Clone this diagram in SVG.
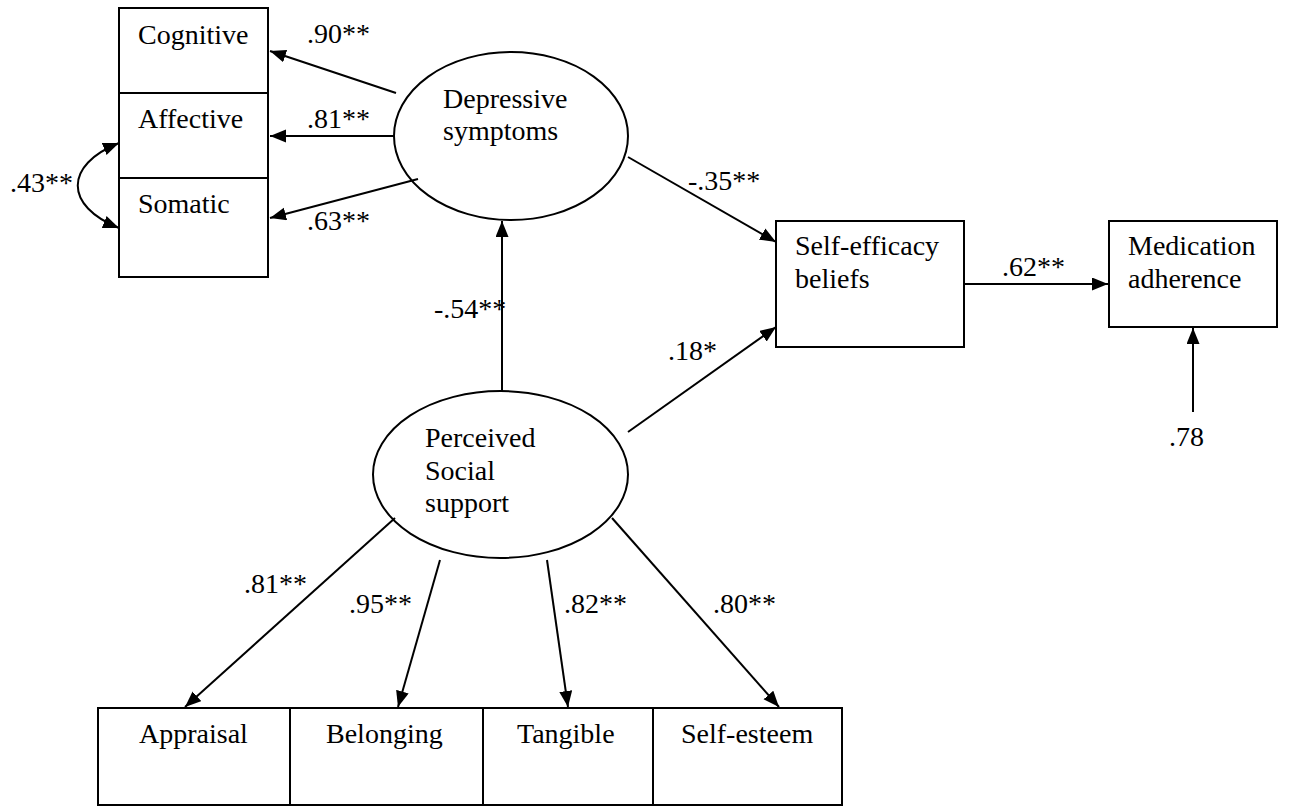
<svg xmlns="http://www.w3.org/2000/svg" width="1292" height="808" viewBox="0 0 1292 808">
<style>
text{font-family:"Liberation Serif","Times New Roman",serif;font-size:28px;fill:#000}
.b{fill:#fff;stroke:#000;stroke-width:2}
.c{fill:none;stroke:#000;stroke-width:2}
</style>
<defs>
<marker id="ah" markerUnits="userSpaceOnUse" markerWidth="18" markerHeight="14" refX="16" refY="6.5" orient="auto-start-reverse">
<path d="M0,0 L16,6.5 L0,13 z" fill="#000"/>
</marker>
</defs>
<rect width="1292" height="808" fill="#fff"/>
<g id="depression-indicators">
<rect class="b" x="119" y="8" width="149" height="269"/>
<line class="c" x1="119" y1="93" x2="268" y2="93"/>
<line class="c" x1="119" y1="178" x2="268" y2="178"/>
<text x="138" y="44">Cognitive</text>
<text x="138" y="128">Affective</text>
<text x="138" y="213">Somatic</text>
</g>
<g id="depressive-symptoms">
<ellipse class="b" cx="511" cy="136" rx="117" ry="84"/>
<text x="443" y="108">Depressive</text>
<text x="443" y="140">symptoms</text>
</g>
<g id="perceived-social-support">
<ellipse class="b" cx="500.5" cy="474.5" rx="127.5" ry="83.5"/>
<text x="425" y="447">Perceived</text>
<text x="425" y="480">Social</text>
<text x="425" y="512">support</text>
</g>
<g id="self-efficacy">
<rect class="b" x="776" y="221" width="188" height="126"/>
<text x="795" y="255">Self-efficacy</text>
<text x="795" y="288">beliefs</text>
</g>
<g id="medication-adherence">
<rect class="b" x="1109" y="221" width="168" height="106"/>
<text x="1128" y="255">Medication</text>
<text x="1128" y="288">adherence</text>
</g>
<g id="support-indicators">
<rect class="b" x="98" y="708" width="744" height="97"/>
<line class="c" x1="290" y1="708" x2="290" y2="805"/>
<line class="c" x1="483" y1="708" x2="483" y2="805"/>
<line class="c" x1="653" y1="708" x2="653" y2="805"/>
<text x="139" y="743">Appraisal</text>
<text x="326" y="743">Belonging</text>
<text x="517" y="743">Tangible</text>
<text x="681" y="743">Self-esteem</text>
</g>
<g id="connectors">
<line class="c" x1="396" y1="93" x2="270" y2="51" marker-end="url(#ah)"/>
<line class="c" x1="394" y1="136" x2="270" y2="136" marker-end="url(#ah)"/>
<line class="c" x1="418" y1="179" x2="270" y2="218" marker-end="url(#ah)"/>
<path class="c" d="M119,143 C64,165 64,206 119,228" marker-start="url(#ah)" marker-end="url(#ah)"/>
<line class="c" x1="628" y1="157" x2="776" y2="242" marker-end="url(#ah)"/>
<line class="c" x1="502" y1="391" x2="502" y2="221" marker-end="url(#ah)"/>
<line class="c" x1="628" y1="432" x2="776" y2="327" marker-end="url(#ah)"/>
<line class="c" x1="964" y1="284" x2="1108" y2="284" marker-end="url(#ah)"/>
<line class="c" x1="1193" y1="412" x2="1193" y2="328" marker-end="url(#ah)"/>
<line class="c" x1="395" y1="518" x2="185" y2="707" marker-end="url(#ah)"/>
<line class="c" x1="440" y1="560" x2="398" y2="707" marker-end="url(#ah)"/>
<line class="c" x1="547" y1="560" x2="568" y2="707" marker-end="url(#ah)"/>
<line class="c" x1="612" y1="518" x2="779" y2="707" marker-end="url(#ah)"/>
</g>
<g id="labels">
<text x="307" y="43">.90**</text>
<text x="307" y="128">.81**</text>
<text x="307" y="230">.63**</text>
<text x="10" y="192">.43**</text>
<text x="688" y="190">-.35**</text>
<text x="434" y="318">-.54**</text>
<text x="668" y="360">.18*</text>
<text x="1002" y="276">.62**</text>
<text x="1169" y="446">.78</text>
<text x="244" y="593">.81**</text>
<text x="349" y="613">.95**</text>
<text x="564" y="613">.82**</text>
<text x="713" y="613">.80**</text>
</g>
</svg>
